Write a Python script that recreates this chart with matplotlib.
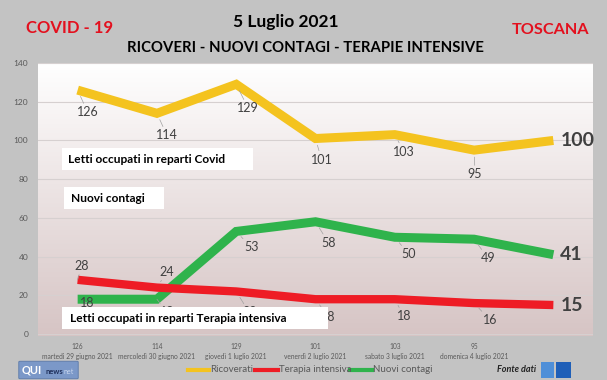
import numpy as np
import matplotlib.pyplot as plt
from matplotlib.patches import Rectangle, FancyBboxPatch
from matplotlib.lines import Line2D

plt.rcParams['font.family'] = ['Lato', 'DejaVu Sans']

# -------------------------------
# DATA
# -------------------------------
days = ['martedì 29 giugno 2021', 'mercoledì 30 giugno 2021', 'giovedì 1 luglio 2021',
        'venerdì 2 luglio 2021', 'sabato 3 luglio 2021', 'domenica 4 luglio 2021', '']
ricoverati = [126, 114, 129, 101, 103, 95, 100]
terapia = [28, 24, 22, 18, 18, 16, 15]
contagi = [18, 18, 53, 58, 50, 49, 41]
yticks = [0, 20, 40, 60, 80, 100, 120, 140]

# label offsets in pixels (dx, dy down) - style only
off_ric = [(10, 22), (10, 22), (12, 24), (6, 21), (9, 17), (1, 24)]
off_ter = [(4, -14), (10, -16), (13, 21), (13, 18), (9, 17), (16, 17)]
off_con = [(10, 4), (10, 13), (15, 16), (13, 21), (14, 17), (14, 19)]

W, H = 607, 380
fig = plt.figure(figsize=(W / 100, H / 100), dpi=100)
fig.patch.set_facecolor('#c3c3c3')


def fx(x):
    return x / W


def fy(y):
    return 1 - y / H


ax = fig.add_axes([fx(38), fy(336), (593 - 38) / W, (336 - 63) / H])
x = np.arange(len(days))
ax.set_xlim(-0.5, len(days) - 0.5)
ax.set_ylim(-1, 140)

# gradient background
grad = np.linspace(0, 1, 256)[:, None]
top = np.array([1.0, 1.0, 1.0])
bot = np.array([0.84, 0.77, 0.77])
img = top[None, None, :] * (1 - grad[..., None]) + bot[None, None, :] * grad[..., None]
ax.imshow(img, extent=[-0.5, len(days) - 0.5, -1, 140], aspect='auto', zorder=0)

ax.set_yticks(yticks)
ax.yaxis.grid(True, color='#d6d0d0', lw=0.8, zorder=1)
ax.set_axisbelow(True)
for s in ax.spines.values():
    s.set_visible(False)
ax.tick_params(length=0)
ax.tick_params(axis='y', labelsize=6, labelcolor='#595959', pad=7)
ax.set_xticks(x)
ax.set_xticklabels([f'{r}\n{d}' if d else '' for r, d in zip(ricoverati, days)],
                   fontsize=4.8, color='#595959', linespacing=1.5)
ax.tick_params(axis='x', pad=5)

c_yel = '#f4c31f'
c_red = '#ee1c25'
c_grn = '#2fb34c'
kw = dict(solid_capstyle='butt', solid_joinstyle='miter', zorder=3)
ax.plot(x, ricoverati, color=c_yel, lw=6.5, **kw)
ax.plot(x, contagi, color=c_grn, lw=6.5, **kw)
ax.plot(x, terapia, color=c_red, lw=6.0, **kw)


def labels(vals, offs):
    for i, (v, (dx, dy)) in enumerate(zip(vals[:-1], offs)):
        ax.annotate(str(v), (x[i], v), xytext=(dx * 0.72, -dy * 0.72),
                    textcoords='offset points', ha='center', va='center',
                    fontsize=9, color='#404040', zorder=4,
                    arrowprops=dict(arrowstyle='-', color='#a0a0a0', lw=0.5,
                                    shrinkA=0, shrinkB=5))
    ax.annotate(str(vals[-1]), (x[-1], vals[-1]), xytext=(5, 0),
                textcoords='offset points', ha='left', va='center',
                fontsize=14, fontweight='bold', color='#404040', zorder=4)


labels(ricoverati, off_ric)
labels(terapia, off_ter)
labels(contagi, off_con)

# white boxes
boxes = [(62, 148, 253, 170, 'Letti occupati in reparti Covid', 68),
         (64, 187, 164, 209, 'Nuovi contagi', 71),
         (62, 307, 328, 329, 'Letti occupati in reparti Terapia intensiva', 70)]
for x0, y0, x1, y1, txt, tx in boxes:
    fig.add_artist(Rectangle((fx(x0), fy(y1)), (x1 - x0) / W, (y1 - y0) / H,
                             transform=fig.transFigure, facecolor='white',
                             edgecolor='none', zorder=10))
    fig.text(fx(tx), fy((y0 + y1) / 2 + 0.5), txt, ha='left', va='center',
             fontsize=8.6, fontweight='bold', color='black', zorder=11)

# titles
fig.text(fx(26), fy(28), 'COVID - 19', color='#e3101e', fontsize=12,
         fontweight='bold', ha='left', va='center')
fig.text(fx(286), fy(22), '5 Luglio 2021', color='black', fontsize=12.5,
         fontweight='bold', ha='center', va='center')
fig.text(fx(305), fy(48), 'RICOVERI - NUOVI CONTAGI - TERAPIE INTENSIVE',
         color='black', fontsize=10.7, fontweight='bold', ha='center', va='center')
fig.text(fx(589), fy(30), 'TOSCANA', color='#e3101e', fontsize=11.7,
         fontweight='bold', ha='right', va='center')

# legend
leg = [(c_yel, 'Ricoverati', 188, 209), (c_red, 'Terapia intensiva', 255, 278),
       (c_grn, 'Nuovi contagi', 350, 372)]
for col, name, l0, l1 in leg:
    fig.add_artist(Line2D([fx(l0), fx(l1)], [fy(370), fy(370)], color=col, lw=3,
                          transform=fig.transFigure))
    fig.text(fx(l1 + 1), fy(370), name, fontsize=7, color='#595959',
             ha='left', va='center')

# QUInews logo
fig.add_artist(FancyBboxPatch((fx(20), fy(378)), 57 / W, 16 / H,
                              boxstyle='round,pad=0.002', transform=fig.transFigure,
                              facecolor='#7b98c8', edgecolor='#5a78a8', lw=0.6))
fig.text(fx(22), fy(370), 'QUI', fontsize=8, fontweight='bold', color='white',
         ha='left', va='center')
fig.text(fx(45), fy(371), 'news', fontsize=5.5, fontweight='bold', color='#1f2f5a',
         ha='left', va='center')
fig.text(fx(64), fy(371), 'net', fontsize=5, color='#c8d6ee', ha='left', va='center')

# Fonte dati
fig.text(fx(536), fy(370), 'Fonte dati', fontsize=6.5, fontstyle='italic',
         fontweight='bold', color='#222222', ha='right', va='center')
fig.add_artist(Rectangle((fx(541), fy(378)), 13 / W, 16 / H, transform=fig.transFigure,
                         facecolor='#4f8fd8', edgecolor='none'))
fig.add_artist(Rectangle((fx(556), fy(378)), 15 / W, 16 / H, transform=fig.transFigure,
                         facecolor='#1f5fb8', edgecolor='none'))

fig.savefig('out.png', dpi=100, facecolor=fig.get_facecolor())
